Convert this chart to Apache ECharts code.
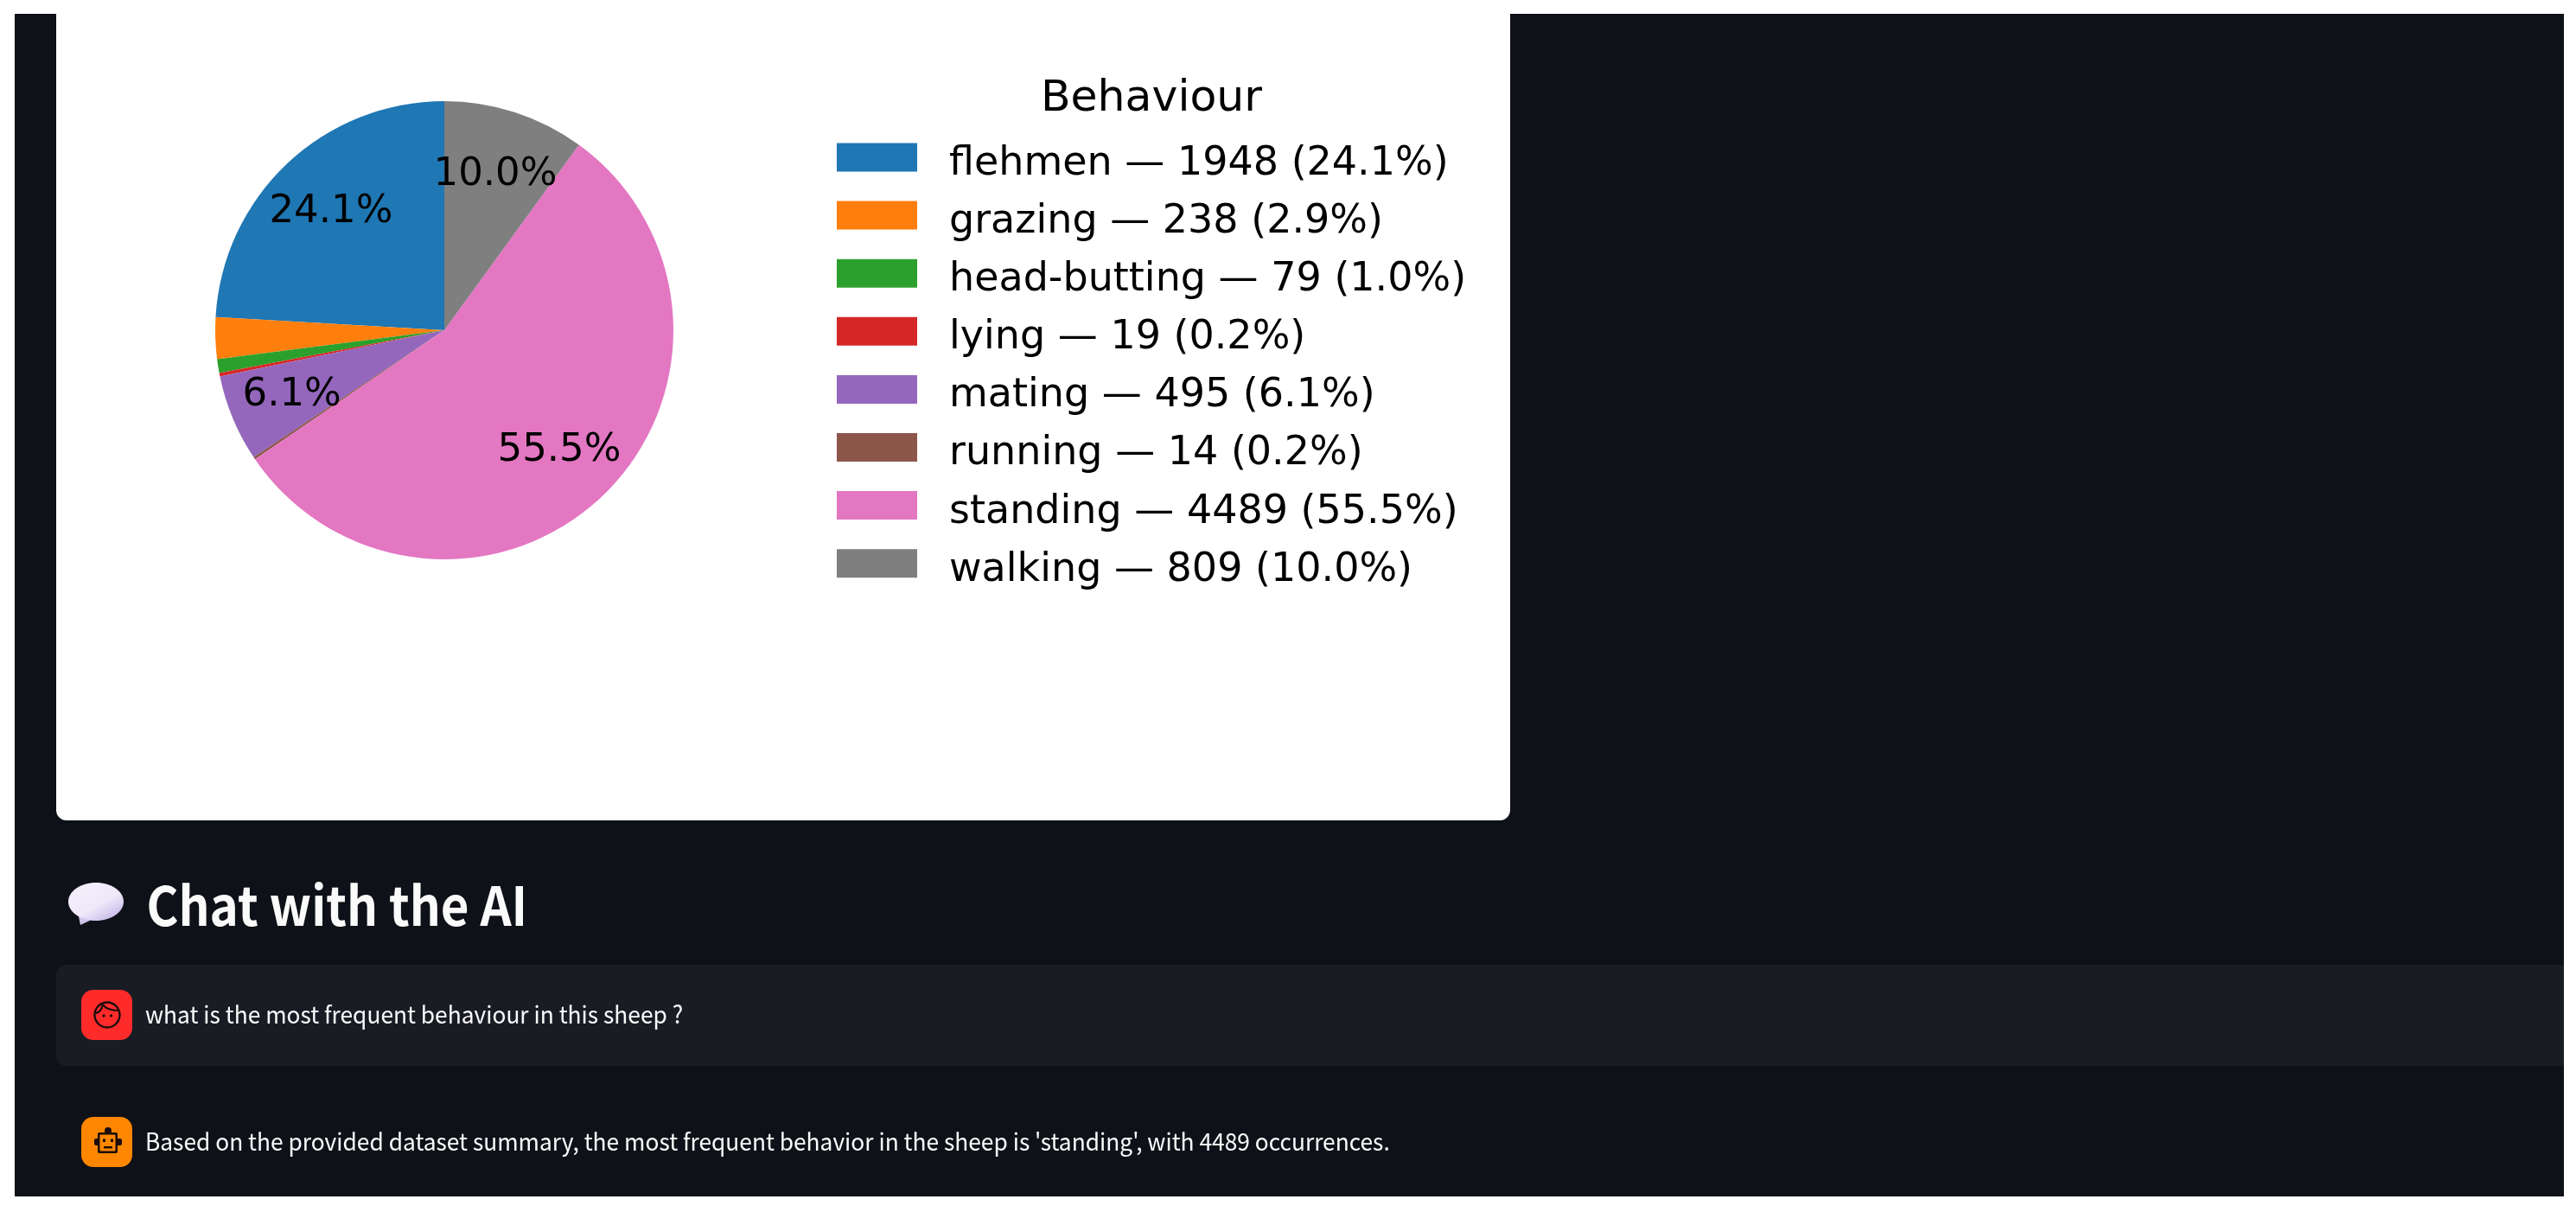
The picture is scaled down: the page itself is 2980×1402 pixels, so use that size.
<!DOCTYPE html>
<html><head><meta charset="utf-8">
<style>html,body{margin:0;padding:0;background:#fff}#c{width:2980px;height:1402px}</style>
<script src="https://cdn.jsdelivr.net/npm/echarts@6/dist/echarts.min.js"></script>
</head><body><div id="c"></div>
<script>
const behaviours = ['flehmen','grazing','head-butting','lying','mating','running','standing','walking'];
const counts = [1948,238,79,19,495,14,4489,809];
const shares = ['24.1%','2.9%','1.0%','0.2%','6.1%','0.2%','55.5%','10.0%'];
const colours = ['#1f77b4','#ff7f0e','#2ca02c','#d62728','#9467bd','#8c564b','#e377c2','#7f7f7f'];
const legendTitle = 'Behaviour';
const heading = 'Chat with the AI';
const userMessage = 'what is the most frequent behaviour in this sheep ?';
const botMessage = "Based on the provided dataset summary, the most frequent behavior in the sheep is 'standing', with 4489 occurrences.";

const MPL = '"DejaVu Sans"';
const UI = '"Noto Sans CJK SC"';
const INK = '#1c0c0c';
const pieData = behaviours.map((n,i)=>({name:n,value:counts[i],itemStyle:{color:colours[i]}}));
const labelData = behaviours.map((n,i)=>({name:n,value:counts[i],itemStyle:{color:'rgba(0,0,0,0)'},
  label:{show:parseFloat(shares[i])>5}}));

function box(x,y,w,h,fill,r){return {type:'rect',shape:{x,y,width:w,height:h,r:r||0},style:{fill}};}
function txt(x,y,t,size,weight,sx){return {type:'text',x,y,scaleX:sx||1,style:{text:t,font:(weight||400)+' '+size+'px '+UI,fill:'#fafafa',textVerticalAlign:'middle',textAlign:'left'}};}

const chart = echarts.init(document.getElementById('c'),null,{renderer:'canvas'});
chart.setOption({
  animation:false,
  backgroundColor:'#ffffff',
  color:colours,
  title:{text:legendTitle,left:1327,top:84,textAlign:'center',textStyle:{fontFamily:MPL,fontSize:50.5,fontWeight:400,color:'#000',lineHeight:52}},
  legend:{orient:'vertical',left:968,top:165.5,itemWidth:93,itemHeight:33,itemGap:19.6,padding:0,icon:'rect',selectedMode:false,
    data:behaviours,
    formatter:n=>{const i=behaviours.indexOf(n);return '{t|'+n+' — '+counts[i]+' ('+shares[i]+')}';},
    textStyle:{rich:{t:{fontFamily:MPL,fontSize:46,color:'#000',padding:[16,0,0,32]}}}},
  series:[
    {type:'pie',center:[514,382],radius:[0,265],startAngle:90,clockwise:false,silent:true,
     avoidLabelOverlap:false,label:{show:false},labelLine:{show:false},data:pieData},
    {type:'pie',center:[514,382],radius:[111,265],startAngle:90,clockwise:false,silent:true,avoidLabelOverlap:false,
     label:{show:false,position:'inside',formatter:p=>shares[p.dataIndex],fontFamily:MPL,fontSize:45,color:'#000'},
     labelLayout:{dy:2},
     labelLine:{show:false},data:labelData}
  ],
  graphic:{elements:[
    box(17,16,2949,1368,'#0e1117'),
    box(65,16,1682,933,'#ffffff',[0,0,12,12]),
    box(65,1116,2901,117,'#1a1c24',[12,0,0,12]),
    // speech bubble emoji
    {type:'polygon',shape:{points:[[90,1055],[110,1062],[93,1070]]},style:{fill:'#cfc3ea'}},
    {type:'ellipse',shape:{cx:111,cy:1043,rx:32,ry:22},style:{fill:new echarts.graphic.LinearGradient(0.3,0,0.7,1,[{offset:0,color:'#f4eefc'},{offset:0.6,color:'#efe8f9'},{offset:1,color:'#cabdea'}])}},
    txt(169.5,1047,heading,62,700,0.91),
    // user avatar
    box(94,1145,59,58,'#ff2b2b',14),
    {type:'circle',shape:{cx:124,cy:1174,r:14.5},style:{fill:'none',stroke:INK,lineWidth:2.4}},
    {type:'bezierCurve',shape:{x1:111,y1:1172,cpx1:115,cpy1:1171,cpx2:118,cpy2:1167,x2:119,y2:1162},style:{fill:'none',stroke:INK,lineWidth:2.2}},
    {type:'bezierCurve',shape:{x1:119,y1:1162,cpx1:122,cpy1:1167,cpx2:129,cpy2:1169,x2:138,y2:1169},style:{fill:'none',stroke:INK,lineWidth:2.2}},
    {type:'circle',shape:{cx:120,cy:1175,r:1.7},style:{fill:INK}},
    {type:'circle',shape:{cx:128.5,cy:1175,r:1.7},style:{fill:INK}},
    // bot avatar
    box(94,1292,59,58,'#ff8700',14),
    {type:'circle',shape:{cx:125,cy:1308,r:4},style:{fill:INK}},
    box(109,1317,32,8,INK,2),
    box(113,1310,23,24,INK,2),
    box(115.5,1312.5,18,19,'#ff8700',1),
    box(119,1317.5,3,3.5,INK),
    box(128,1317.5,3,3.5,INK),
    box(120,1326,10,2.4,INK),
    txt(168,1173.5,userMessage,28,400,0.94),
    txt(168,1320.5,botMessage,28,400,0.94)
  ]}
});
</script></body></html>
